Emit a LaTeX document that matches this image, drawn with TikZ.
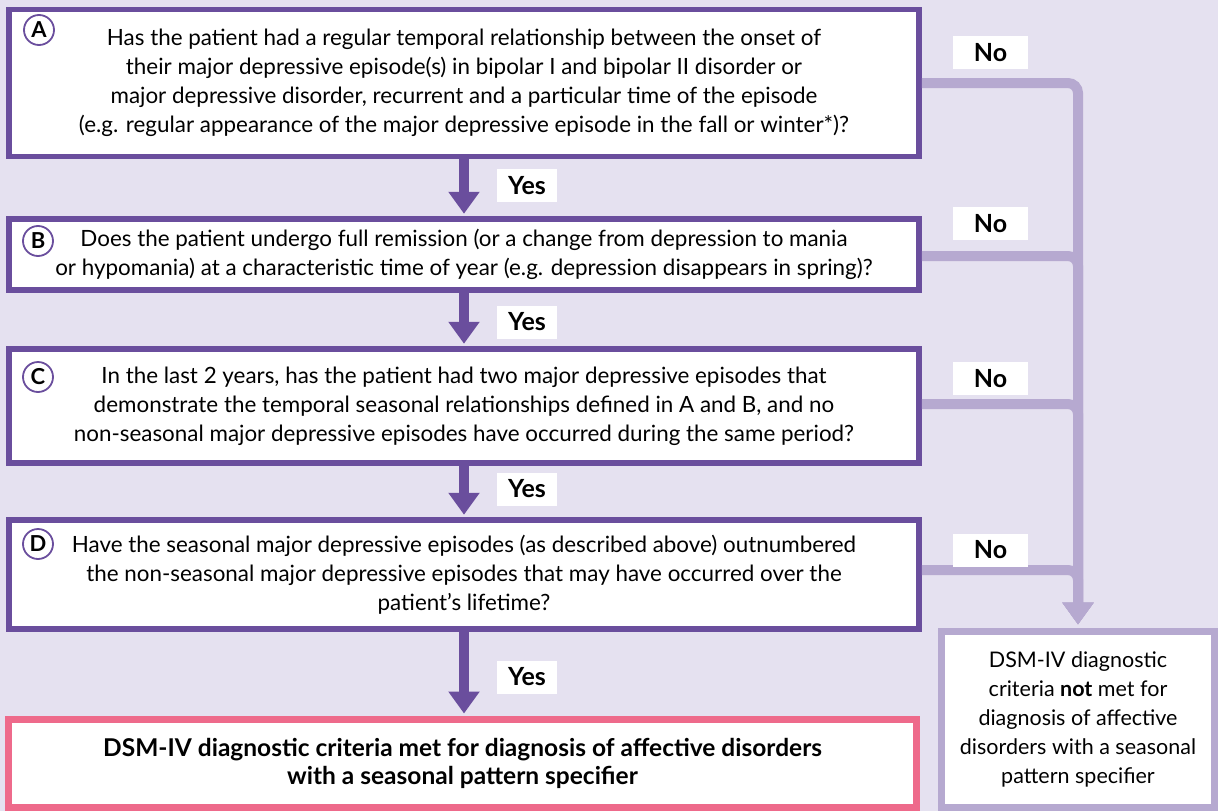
\documentclass[tikz,border=0pt]{standalone}
\usepackage{fontspec}
\setmainfont{Lato}
\usetikzlibrary{arrows.meta}
\definecolor{bgtint}{HTML}{E5E1F0}
\definecolor{deep}{HTML}{6A4E9D}
\definecolor{soft}{HTML}{B6A9D0}
\definecolor{rose}{HTML}{EE6A8B}
\begin{document}
\begin{tikzpicture}[x=1pt,y=-1pt,
  qbox/.style={draw=deep,line width=5.5pt,fill=white,minimum width=910pt,
    align=center,inner sep=0pt,font=\fontsize{22.4}{29}\selectfont},
  tag/.style={circle,draw=deep,line width=1.8pt,fill=white,minimum size=30pt,
    inner sep=0pt,font=\fontsize{22}{22}\selectfont\bfseries},
  lbl/.style={fill=white,minimum height=33pt,inner sep=0pt,
    font=\fontsize{25}{25}\selectfont\bfseries},
  yeslbl/.style={lbl,minimum width=60pt},
  nolbl/.style={lbl,minimum width=75pt},
  yesarrow/.style={draw=deep,line width=10pt,
    -{Triangle[width=30pt,length=22pt]},shorten >=2.5pt},
  noline/.style={draw=soft,line width=10pt,rounded corners=10pt,
    -{Triangle[width=30pt,length=22pt]},shorten >=3.5pt}]
\useasboundingbox (0,0) rectangle (1218,811);
\fill[bgtint] (0,0) rectangle (1218,811);

% question boxes
\node[qbox,minimum height=147pt] (A) at (464,83)
  {Has the patient had a regular temporal relationship between the onset of\\
   their major depressive episode(s) in bipolar I and bipolar II disorder or\\
   major depressive disorder, recurrent and a particular time of the episode\\
   (e.g. regular appearance of the major depressive episode in the fall or winter*)?};
\node[qbox,minimum height=71pt] (B) at (464,254.5)
  {Does the patient undergo full remission (or a change from depression to mania\\
   or hypomania) at a characteristic time of year (e.g. depression disappears in spring)?};
\node[qbox,minimum height=114pt] (C) at (464,406)
  {In the last 2 years, has the patient had two major depressive episodes that\\
   demonstrate the temporal seasonal relationships defined in A and B, and no\\
   non-seasonal major depressive episodes have occurred during the same period?};
\node[qbox,minimum height=109pt] (D) at (464,574.5)
  {Have the seasonal major depressive episodes (as described above) outnumbered\\
   the non-seasonal major depressive episodes that may have occurred over the\\
   patient's lifetime?};

% outcome boxes
\node[draw=rose,line width=7pt,fill=white,minimum width=908pt,minimum height=88pt,
  align=center,inner sep=0pt,font=\fontsize{24.5}{28}\selectfont\bfseries] (E) at (462.5,763.5)
  {DSM-IV diagnostic criteria met for diagnosis of affective disorders\\
   with a seasonal pattern specifier};
\node[draw=soft,line width=7pt,fill=white,minimum width=273pt,minimum height=176pt,
  align=center,inner sep=0pt,font=\fontsize{21.5}{29}\selectfont] (F) at (1078,719.5)
  {DSM-IV diagnostic\\ criteria \textbf{not} met for\\ diagnosis of affective\\
   disorders with a seasonal\\ pattern specifier};

% step letters
\node[tag] (tA) at (39,30) {A};
\node[tag] (tB) at (38,241) {B};
\node[tag] (tC) at (38,377) {C};
\node[tag] (tD) at (38,544) {D};

% "yes" path
\draw[yesarrow] (A.south) -- (B.north);
\draw[yesarrow] (B.south) -- (C.north);
\draw[yesarrow] (C.south) -- (D.north);
\draw[yesarrow] (D.south) -- (D.south |- E.north);
\node[yeslbl] (y1) at (527,185.5) {Yes};
\node[yeslbl] (y2) at (527,322) {Yes};
\node[yeslbl] (y3) at (527,489) {Yes};
\node[yeslbl] (y4) at (527,677) {Yes};

% "no" paths
\draw[noline] (A.east) -| (F.north);
\draw[noline] ([yshift=-1.5pt]B.east) -| (F.north);
\draw[noline] ([yshift=2pt]C.east) -| (F.north);
\draw[noline] ([yshift=4.5pt]D.east) -| (F.north);
\node[nolbl] (n1) at (990.5,52.5) {No};
\node[nolbl] (n2) at (990.5,223.5) {No};
\node[nolbl] (n3) at (990.5,378.5) {No};
\node[nolbl] (n4) at (990.5,550) {No};
\end{tikzpicture}
\end{document}
